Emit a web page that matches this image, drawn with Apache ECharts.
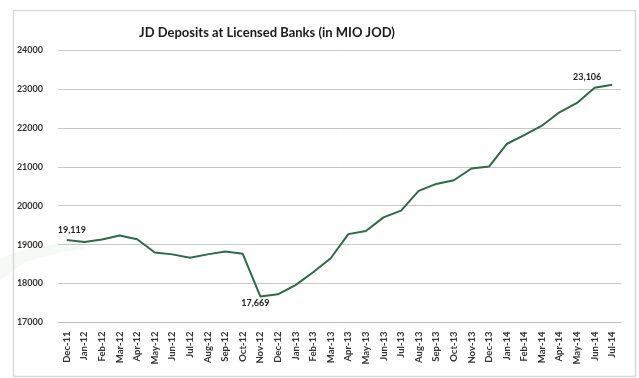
<!DOCTYPE html>
<html>
<head>
<meta charset="utf-8">
<script src="https://cdn.jsdelivr.net/npm/echarts@6/dist/echarts.min.js"></script>
<style>
html,body{margin:0;padding:0;background:#fff;}
#c{width:639px;height:378px;}
</style>
</head>
<body>
<div id="c"></div>
<script>
var titleText = 'JD Deposits at Licensed Banks (in MIO JOD)';
var months = ['Dec-11','Jan-12','Feb-12','Mar-12','Apr-12','May-12','Jun-12','Jul-12','Aug-12','Sep-12','Oct-12','Nov-12','Dec-12','Jan-13','Feb-13','Mar-13','Apr-13','May-13','Jun-13','Jul-13','Aug-13','Sep-13','Oct-13','Nov-13','Dec-13','Jan-14','Feb-14','Mar-14','Apr-14','May-14','Jun-14','Jul-14'];
var deposits = [19119,19070,19130,19235,19140,18800,18750,18665,18750,18825,18765,17669,17725,17960,18290,18650,19270,19350,19700,19875,20380,20560,20655,20955,21005,21585,21815,22055,22400,22640,23030,23106];
var yTicks = [17000,18000,19000,20000,21000,22000,23000,24000];
var labelledIdx = [0, 11, 31];

var labelOpts = {
  0: {position:'top', offset:[5,0]},
  11: {position:'bottom', offset:[-5,-3]},
  31: {position:'top', offset:[-25,2]}
};
var seriesData = deposits.map(function(v,i){
  if (labelledIdx.indexOf(i) >= 0) {
    var o = labelOpts[i];
    return {value:v, label:{show:true, position:o.position, offset:o.offset,
      formatter:function(p){return p.value.toLocaleString('en-US');},
      fontSize:9, fontWeight:'bold', color:'#222', fontFamily:'Lato'}};
  }
  return v;
});

var chart = echarts.init(document.getElementById('c'), null, {renderer:'canvas'});
chart.setOption({
  backgroundColor:'#ffffff',
  animation:false,
  graphic:[
    {type:'rect', left:11, top:8, shape:{width:622, height:366},
     style:{fill:'none', stroke:'#d9d9d9', lineWidth:1.5}, z:-1},
    {type:'polygon', shape:{points:[[0,258],[25,250],[55,244],[85,240],[85,248],[55,254],[25,262],[0,280]]},
     style:{fill:'rgba(170,210,180,0.12)'}, z:-2}
  ],
  title:{text:titleText, left:262, top:21, textAlign:'center',
    textStyle:{fontFamily:'Lato', fontSize:13, fontWeight:'bold', color:'#1a1a1a'}},
  grid:{left:58, right:18, top:50, bottom:55.5},
  xAxis:{type:'category', data:months, boundaryGap:true,
    axisLine:{show:true, lineStyle:{color:'#bfbfbf', width:1}},
    axisTick:{show:false},
    axisLabel:{rotate:90, interval:0, margin:9, fontSize:9.5, fontWeight:'bold', color:'#333', fontFamily:'Lato'}},
  yAxis:{type:'value', min:yTicks[0], max:yTicks[yTicks.length-1], interval:1000,
    axisLine:{show:false}, axisTick:{show:false},
    splitLine:{lineStyle:{color:'#c8c8c8', width:1}},
    axisLabel:{margin:15, fontSize:9, fontWeight:'bold', color:'#333', fontFamily:'Lato',
      formatter:function(v){return String(v);}}},
  series:[{type:'line', data:seriesData, symbol:'circle', symbolSize:0, showSymbol:true, smooth:false,
    lineStyle:{color:'#2e6a45', width:2}, itemStyle:{color:'#2e6a45'}}]
});
</script>
</body>
</html>
